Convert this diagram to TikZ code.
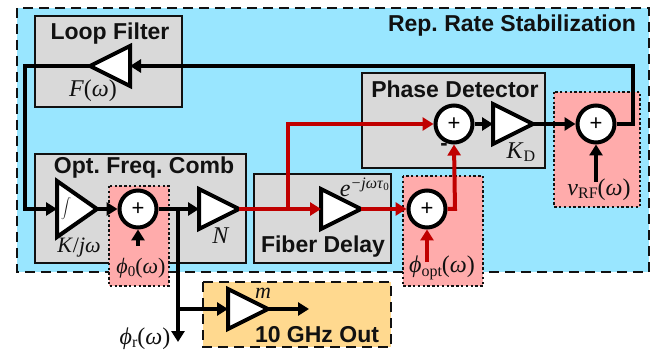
\documentclass[tikz,border=0pt]{standalone}
\usepackage{fontspec}
\setmainfont{Liberation Serif}
\newfontfamily\hd{Liberation Sans}
\usetikzlibrary{arrows.meta,shapes.geometric}
\definecolor{bluebg}{HTML}{99E6FF}
\definecolor{greybg}{HTML}{D9D9D9}
\definecolor{pinkbg}{HTML}{FFABAB}
\definecolor{orangebg}{HTML}{FFD98F}
\definecolor{redline}{HTML}{C00000}
\definecolor{ink}{HTML}{111111}
\frenchspacing
\tikzset{
  region/.style={draw=ink,line width=2.2pt,dash pattern=on 10pt off 6pt},
  blockbox/.style={draw=ink,fill=greybg,line width=2pt},
  noisebox/.style={draw=ink,fill=pinkbg,line width=2.4pt,dash pattern=on 2.4pt off 2.4pt},
  blocktitle/.style={font=\hd\bfseries\fontsize{23}{24}\selectfont\frenchspacing,text=ink,inner sep=0pt},
  mathlabel/.style={font=\fontsize{24}{26}\selectfont,text=ink,inner sep=0pt},
  amp/.style={draw=black,fill=white,line width=4pt,isosceles triangle,isosceles triangle apex angle=54,
    isosceles triangle stretches,minimum width=40pt,minimum height=40pt,inner sep=0pt,outer sep=0pt},
  summer/.style={circle,draw=black,fill=white,line width=4pt,minimum size=37pt,inner sep=0pt,outer sep=2pt,
    font=\hd\fontsize{22}{22}\selectfont},
  blackwire/.style={draw=black,line width=4pt,-{Triangle[length=11pt,width=13pt]}},
  redwire/.style={draw=redline,line width=4pt,-{Triangle[length=11pt,width=13pt]}},
}
\begin{document}
\begin{tikzpicture}[x=1pt,y=-1pt]
\useasboundingbox (0,0) rectangle (654,350);
\fill[white] (0,0) rectangle (654,350);
% regions
\path[region,fill=bluebg] (17,8) rectangle (649,272);
\path[region,fill=orangebg] (203,282) rectangle (391,347);
% blocks
\path[blockbox] (35,16) rectangle (182,107);
\path[blockbox] (35,154) rectangle (246,263);
\path[blockbox] (254,174) rectangle (391,263);
\path[blockbox] (362,73) rectangle (545,168);
\path[noisebox] (109,186) rectangle (169,286);
\path[noisebox] (403,176) rectangle (483,286);
\path[noisebox] (554,92) rectangle (640,207);
% titles
\node[blocktitle] (tloop) at (110,34) {Loop Filter};
\node[blocktitle] (tcomb) at (144,168) {Opt. Freq. Comb};
\node[blocktitle] (tfiber) at (323,247) {Fiber Delay};
\node[blocktitle] (tphase) at (455,89) {Phase Detector};
\node[blocktitle] (trep) at (512,26) {Rep. Rate Stabilization};
\node[blocktitle] (tout) at (317,335) {10 GHz Out};
% amplifiers
\node[amp,shape border rotate=180,anchor=apex] (aloop) at (90,66) {};
\node[amp,anchor=apex,minimum width=56pt] (aint) at (97,209) {};
\node[amp,anchor=apex] (an) at (239,209) {};
\node[amp,anchor=apex] (afib) at (361,209) {};
\node[amp,anchor=apex] (apd) at (533,124) {};
\node[amp,anchor=apex] (aout) at (268,309) {};
% summers
\node[summer] (s0) at (138,209) {+};
\node[summer] (sopt) at (427,209) {+};
\node[summer] (spd) at (454,124) {+};
\node[summer] (srf) at (596,124) {+};
% math labels
\node[mathlabel] (lf) at (93,91) {\textit{F}(\textit{ω})};
\node[mathlabel,font=\fontsize{20}{22}\selectfont] (lint) at (66,209) {$\displaystyle\int$};
\node[mathlabel,font=\fontsize{22}{24}\selectfont] (lk) at (79,248) {\textit{K}/\textit{jω}};
\node[mathlabel,font=\fontsize{22}{24}\selectfont] (lphi) at (141,268) {\textit{ϕ}\raisebox{-3pt}{\fontsize{15}{15}\selectfont 0}(\textit{ω})};
\node[mathlabel] (ln) at (221,236) {\textit{N}};
\node[mathlabel,anchor=east] (ldelay) at (389,187) {\textit{e}\raisebox{8pt}{\fontsize{16}{16}\selectfont\textit{−jωτ}\raisebox{-2pt}{\fontsize{11}{11}\selectfont 0}}};
\node[mathlabel] (lopt) at (442,268) {\textit{ϕ}\raisebox{-4pt}{\fontsize{16}{16}\selectfont opt}(\textit{ω})};
\node[mathlabel] (lkd) at (521,152) {\textit{K}\raisebox{-3pt}{\fontsize{16}{16}\selectfont D}};
\node[mathlabel] (lrf) at (599,190) {\textit{v}\raisebox{-3pt}{\fontsize{16}{16}\selectfont RF}(\textit{ω})};
\node[mathlabel] (lr) at (145,339) {\textit{ϕ}\raisebox{-3pt}{\fontsize{16}{16}\selectfont r}(\textit{ω})};
\node[mathlabel,font=\fontsize{22}{24}\selectfont] (lm) at (263,293) {\textit{m}};
\node[font=\hd\bfseries\fontsize{22}{22}\selectfont,text=ink,inner sep=0pt] (lminus) at (444,147) {-};
% free ends
\coordinate (ph0) at (138,246);
\coordinate (popt) at (427,262);
\coordinate (prf) at (596,182);
\coordinate (jfb) at (633,124);
\coordinate (jl) at (25,66);
\coordinate (jin) at (25,209);
\coordinate (jout) at (178,209);
\coordinate (jr) at (178,342);
\coordinate (jm) at (178,309);
\coordinate (jred) at (288,209);
\coordinate (jup) at (288,124);
\coordinate (jopt) at (455,209);
\coordinate (oend) at (309,309);
% black wires
\draw[blackwire] (srf.east) -- (jfb) |- (aloop.lower side);
\draw[blackwire] (aloop.apex) -- (jl) -- (jin) -- (aint.lower side);
\draw[blackwire] (aint.apex) -- (s0.west);
\draw[blackwire] (ph0) -- (s0.south);
\draw[blackwire] (s0.east) -- (an.lower side);
\draw[blackwire] (jout) -- (jr);
\draw[blackwire] (jm) -- (aout.lower side);
\draw[blackwire] (aout.apex) -- (oend);
\draw[blackwire] (spd.east) -- (apd.lower side);
\draw[blackwire] (apd.apex) -- (srf.west);
\draw[blackwire] (prf) -- (srf.south);
% red wires
\draw[redwire] (an.apex) -- (afib.lower side);
\draw[redwire] (jred) -- (jup) -- (spd.west);
\draw[redwire] (afib.apex) -- (sopt.west);
\draw[redwire] (popt) -- (sopt.south);
\draw[redwire] (sopt.east) -- (jopt) -- (spd.south);
\end{tikzpicture}
\end{document}
